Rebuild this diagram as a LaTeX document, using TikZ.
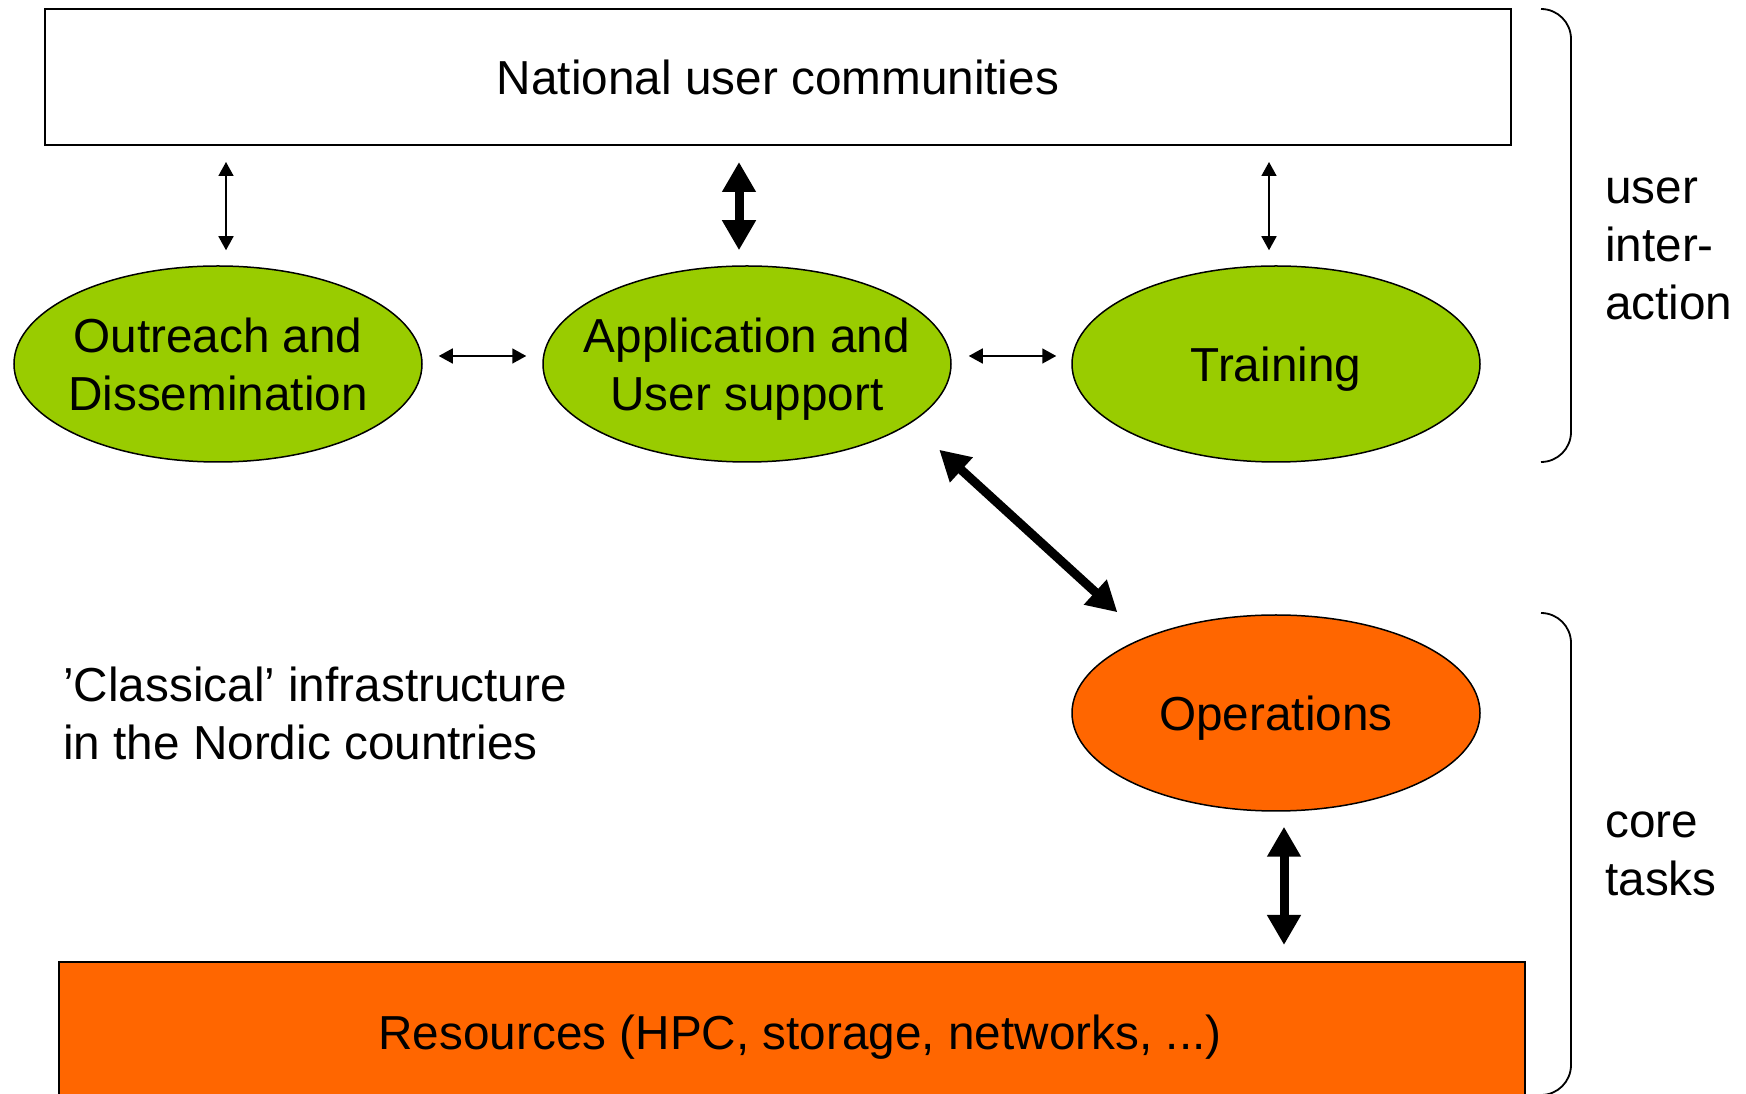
\documentclass[tikz,border=0pt]{standalone}
\usepackage{fontspec}
\setmainfont{Liberation Sans}
\usetikzlibrary{shapes.geometric,arrows.meta}
\definecolor{taskgreen}{HTML}{99CC00}
\definecolor{taskorange}{HTML}{FF6600}
\newcommand{\slidefont}{\fontsize{47.7pt}{58pt}\selectfont}

\begin{document}
\begin{tikzpicture}[x=1pt,y=1pt,
		task/.style={ellipse,draw,line width=1.5pt,minimum width=408pt,minimum height=196pt,inner xsep=-25pt,inner ysep=0pt,text depth=0pt,align=center,font=\slidefont},
		bar/.style={rectangle,draw,line width=2pt,minimum width=1466pt,inner sep=0pt,text depth=0pt,font=\slidefont},
		thinarr/.style={line width=1.6pt,{Triangle[length=14pt,width=15pt]}-{Triangle[length=14pt,width=15pt]}},
		thickarr/.style={line width=9pt,{Triangle[length=30pt,width=32pt]}-{Triangle[length=30pt,width=32pt]}},
		side/.style={anchor=west,align=left,inner sep=0pt,font=\slidefont},
		brace/.style={line width=1.8pt,rounded corners=30pt}]
		
		\useasboundingbox (0,0) rectangle (1746,1093);
		
		\node[bar,minimum height=136pt] (nuc) at (778,1016) {National user communities};
		\node[task,fill=taskgreen] (out) at (218,729) {Outreach and\\Dissemination};
		\node[task,fill=taskgreen] (app) at (747,729) {Application and\\User support};
		\node[task,fill=taskgreen] (trn) at (1276,729) {Training};
		\node[task,fill=taskorange] (ops) at (1276,380) {Operations};
		\node[bar,minimum height=140pt,fill=taskorange] (res) at (792,61) {\hspace*{16pt}Resources (HPC, storage, networks, ...)};
		
		\draw[thinarr,shorten <=16pt,shorten >=15pt] ([xshift=8pt]out.north |- nuc.south) -- ([xshift=8pt]out.north);
		\draw[thickarr,shorten <=16pt,shorten >=15pt] ([xshift=-8pt]app.north |- nuc.south) -- ([xshift=-8pt]app.north);
		\draw[thinarr,shorten <=16pt,shorten >=15pt] ([xshift=-7pt]trn.north |- nuc.south) -- ([xshift=-7pt]trn.north);
		\draw[thinarr,shorten <=16pt,shorten >=16pt] ([yshift=8pt]out.east) -- ([yshift=8pt]app.west);
		\draw[thinarr,shorten <=17pt,shorten >=15pt] ([yshift=8pt]app.east) -- ([yshift=8pt]trn.west);
		\draw[thickarr,shorten <=39pt,shorten >=37pt] (app.-20) -- (ops.150);
		\draw[thickarr,shorten <=15pt,shorten >=16pt] ([xshift=8pt]ops.south) -- ([xshift=8pt]ops.south |- res.north);
		
		\node[side] (ctext) at (63,380) {’Classical’ infrastructure\\in the Nordic countries};
		
		\draw[brace] (1541,1084) -| (1571,631) -- (1541,631);
		\draw[brace] (1541,480) -| (1571,-2) -- (1541,-2);
		\node[side] (ui) at (1605,844) {user\\inter-\\action};
		\node[side] (ct) at (1605,239) {core\\tasks};
		
\end{tikzpicture}
\end{document}
